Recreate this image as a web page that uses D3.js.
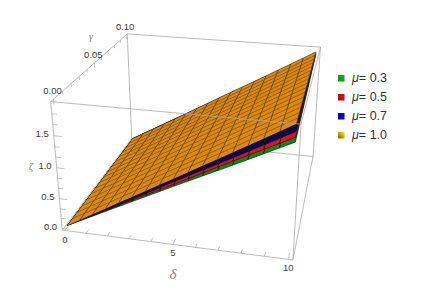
<!DOCTYPE html>
<html><head><meta charset="utf-8">
<script src="https://cdn.jsdelivr.net/npm/d3@7"></script>
<style>html,body{margin:0;background:#fff}svg{display:block}text{font-family:"Liberation Sans",Arial,sans-serif}</style>
</head><body><svg id="c" width="448" height="295"></svg>
<script>
// ---- data ----
const muLabels = ["0.3","0.5","0.7","1.0"];
const muColors = ["#0b8a16","#dc1420","#08084e","#dd8a0c"];
const swatchColors = ["#08c010","#e01018","#0808d8","#e8b408"];
const deltaKnots = [0,2.5,5,7.5,10];
const zetaFront03 = [0,0.43,0.86,1.28,1.71];
const zetaFront05 = [0,0.45,0.89,1.34,1.78];
const zetaFront07 = [0,0.46,0.93,1.39,1.86];
const zetaFront10 = [0,0.49,0.98,1.47,1.97];
const zetaBack03 = [0,0.47,0.95,1.42,1.90];
const zetaBack05 = [0,0.48,0.95,1.43,1.91];
const zetaBack07 = [0,0.48,0.96,1.44,1.92];
const zetaBack10 = [0,0.48,0.97,1.45,1.94];
const deltaTicks = [0,1,2,3,4,5,6,7,8,9,10];
const deltaMajor = [0,5,10];
const yTicks = [0,0.01,0.02,0.03,0.04,0.05,0.06,0.07,0.08,0.09,0.1];
const yMajor = [0,0.05,0.1];
const zetaTicks = [0,0.17,0.33,0.5,0.67,0.83,1,1.17,1.33,1.5,1.67,1.83];
const zetaMajor = [0,0.5,1,1.5];
// ---- layout ----
const deltaDomain=[-0.13,10.2], yDomain=[-0.003,0.102], zetaDomain=[-0.03,2.01];
const sx=d3.scaleLinear().domain(deltaDomain).range([0,1]);
const sy=d3.scaleLinear().domain(yDomain).range([0,1]);
const sz=d3.scaleLinear().domain(zetaDomain).range([0,1]);
// camera fitted to the eight screen corners of the box
const cubeCorners=[[0,0,0,62,230],[1,0,0,293,260],[0,1,0,132,139],[1,1,0,313,156],
                   [0,0,1,51,101],[1,0,1,301,125],[0,1,1,127,34],[1,1,1,320.5,47]];
function fitCamera(pts){
  const A=[],B=[];
  pts.forEach(([X,Y,Z,u,v])=>{
    A.push([X,Y,Z,1,0,0,0,0,-u*X,-u*Y,-u*Z]);B.push(u);
    A.push([0,0,0,0,X,Y,Z,1,-v*X,-v*Y,-v*Z]);B.push(v);
  });
  const n=11,M=d3.range(n).map(i=>d3.range(n+1).map(j=>{
    let s=0;A.forEach((r,k)=>{s+=r[i]*(j<n?r[j]:B[k]);});return s;}));
  for(let i=0;i<n;i++){
    let p=i;for(let r=i+1;r<n;r++)if(Math.abs(M[r][i])>Math.abs(M[p][i]))p=r;
    [M[i],M[p]]=[M[p],M[i]];
    for(let r=0;r<n;r++){if(r===i)continue;const f=M[r][i]/M[i][i];
      for(let c=i;c<=n;c++)M[r][c]-=f*M[i][c];}
  }
  return M.map((r,i)=>r[n]/r[i]);
}
const P=fitCamera(cubeCorners);
function unit(X,Y,Z){const w=P[8]*X+P[9]*Y+P[10]*Z+1;
  return [(P[0]*X+P[1]*Y+P[2]*Z+P[3])/w,(P[4]*X+P[5]*Y+P[6]*Z+P[7])/w];}
const proj=(d,y,z)=>unit(sx(d),sy(y),sz(z));
const svg=d3.select("#c");
const line=d3.line();
const boxColor="#a8a8a8";
function edge(a,b,g){g.append("path").attr("d",line([unit(...a),unit(...b)]))
  .attr("fill","none").attr("stroke",boxColor).attr("stroke-width",0.8);}
const back=svg.append("g");
[[[0,1,0],[1,1,0]],[[1,1,0],[1,1,1]],[[0,1,0],[0,1,1]],[[0,1,1],[1,1,1]],[[0,0,1],[0,1,1]],[[0,0,0],[0,1,0]],[[1,0,0],[1,1,0]]].forEach(e=>edge(e[0],e[1],back));
// surfaces, lowest first
const fronts=[zetaFront03,zetaFront05,zetaFront07,zetaFront10];
const backs=[zetaBack03,zetaBack05,zetaBack07,zetaBack10];
const meshCount=16;
fronts.forEach((f,i)=>{
  const zf=d3.scaleLinear().domain(deltaKnots).range(f);
  const zb=d3.scaleLinear().domain(deltaKnots).range(backs[i]);
  const S=(d,t)=>proj(d,t*0.1,zf(d)+(zb(d)-zf(d))*t);
  const g=svg.append("g");
  const ts=d3.range(meshCount+1).map(k=>k/meshCount);
  const top=i===3;
  const outline=[...ts.map(t=>S(0,t)),...ts.map(t=>S(10*t,1)),...ts.map(t=>S(10,1-t)),...ts.map(t=>S(10*(1-t),0))];
  g.append("path").attr("d",line(outline)+"Z").attr("fill",muColors[i])
    .attr("stroke",top?"none":"#08080a").attr("stroke-width",0.6);
  ts.slice(1,-1).forEach(t=>{
    g.append("path").attr("d",line(ts.map(u=>S(10*u,t)))).attr("fill","none")
      .attr("stroke",top?"#6e4616":d3.color(muColors[i]).darker(1)).attr("stroke-width",0.65);
    g.append("path").attr("d",line(ts.map(u=>S(10*t,u)))).attr("fill","none")
      .attr("stroke",top?"#4a3c28":"#101010").attr("stroke-width",0.8);
  });
  if(top){
    g.append("path").attr("d",line(ts.map(t=>S(10*t,1)))).attr("fill","none").attr("stroke","#4a3a22").attr("stroke-width",0.7);
    g.append("path").attr("d",line(ts.map(t=>S(10,t)))).attr("fill","none").attr("stroke","#4a3a22").attr("stroke-width",0.6);
  }
});
// front box lines
const front=svg.append("g");
[[[0,0,0],[1,0,0]],[[0,0,0],[0,0,1]],[[0,0,1],[1,0,1]],[[1,0,0],[1,0,1]],[[1,0,1],[1,1,1]]].forEach(e=>edge(e[0],e[1],front));
// ticks & labels
const tg=svg.append("g").attr("fill","none").attr("stroke",boxColor).attr("stroke-width",0.7);
const lab=svg.append("g").attr("fill","#3c3c3c").attr("font-size",9.5);
function addTick(a,b){tg.append("path").attr("d",line([a,b]));}
deltaTicks.forEach(d=>{const big=deltaMajor.includes(d);
  const X=sx(d);addTick(unit(X,0,0),unit(X,big?0.05:0.03,0));
  if(big){const p=unit(X,0,0);lab.append("text").attr("x",p[0]).attr("y",p[1]+12).attr("text-anchor","middle").text(d);}});
yTicks.forEach(v=>{const big=yMajor.includes(v);
  const Y=sy(v);addTick(unit(0,Y,1),unit(0,Y,big?0.96:0.975));
  if(big){const p=unit(0,Y,1);lab.append("text").attr("x",p[0]-1).attr("y",p[1]-5).attr("text-anchor","middle").text(d3.format(".2f")(v));}});
zetaTicks.forEach(v=>{const big=zetaMajor.includes(v);
  const Z=sz(v);addTick(unit(0,0,Z),unit(big?0.035:0.022,0,Z));
  if(big){const p=unit(0,0,Z);lab.append("text").attr("x",p[0]-5).attr("y",p[1]+1.5).attr("text-anchor","end").text(d3.format(".1f")(v));}});
// axis titles
const titles=[["δ",173,279,15],["ζ",31,170,11],["γ",91,40,10]];
titles.forEach(([s,x,y,fs])=>svg.append("text").attr("x",x).attr("y",y).attr("text-anchor","middle")
  .attr("font-size",fs).attr("font-style","italic").attr("fill","#808080")
  .style("font-family",'"Liberation Serif",serif').text(s));
// legend
const legendY=d3.scalePoint().domain(muLabels).range([78,135]);
const defs=svg.append("defs");
muLabels.forEach((m,i)=>{
  const id="sw"+i,gr=defs.append("linearGradient").attr("id",id).attr("x1",0).attr("y1",1).attr("x2",1).attr("y2",0);
  gr.append("stop").attr("offset",0).attr("stop-color",i===3?"#8a5a10":d3.color(swatchColors[i]).darker(0.8));
  gr.append("stop").attr("offset",1).attr("stop-color",i===3?"#fff000":swatchColors[i]);
  const y=legendY(m);
  svg.append("rect").attr("x",338).attr("y",y-3).attr("width",6.5).attr("height",6.5).attr("fill",`url(#${id})`);
  const t=svg.append("text").attr("x",352).attr("y",y+4.4).attr("font-size",12.5).attr("fill","#333");
  t.append("tspan").attr("font-style","italic").text("μ");
  t.append("tspan").text("= "+m);
});
</script></body></html>
